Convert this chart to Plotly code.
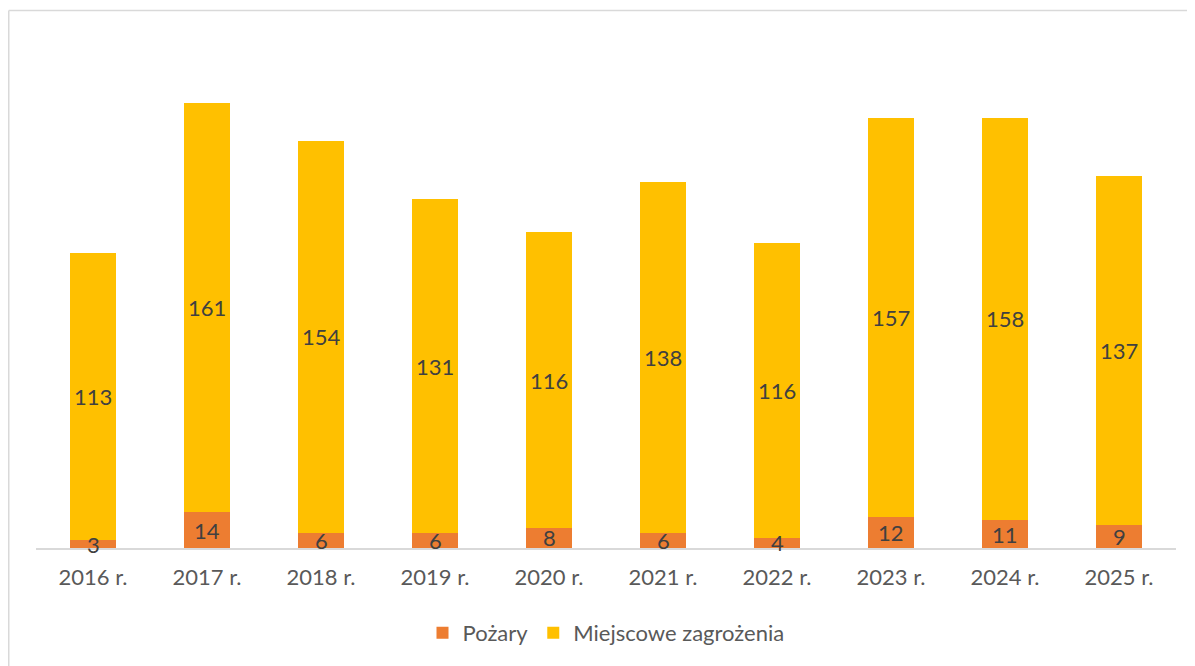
import plotly.graph_objects as go

years = ["2016 r.", "2017 r.", "2018 r.", "2019 r.", "2020 r.", "2021 r.", "2022 r.", "2023 r.", "2024 r.", "2025 r."]
pozary = [3, 14, 6, 6, 8, 6, 4, 12, 11, 9]
miejscowe = [113, 161, 154, 131, 116, 138, 116, 157, 158, 137]

ORANGE = "#ED7D31"
YELLOW = "#FFC000"
FONT = "Lato, Open Sans, sans-serif"
TXT = "#595959"
LBL = "#404040"
SIZE = 22

fig = go.Figure()
fig.add_trace(go.Bar(x=years, y=pozary, name="Pożary", marker=dict(color=ORANGE, line=dict(width=0))))
fig.add_trace(go.Bar(x=years, y=miejscowe, name="Miejscowe zagrożenia", marker=dict(color=YELLOW, line=dict(width=0))))

# data labels centred in each segment
annotations = []
for yr, p, m in zip(years, pozary, miejscowe):
    annotations.append(dict(x=yr, y=p / 2, text=str(p), showarrow=False, yshift=0,
                            font=dict(family=FONT, size=SIZE, color=LBL)))
    annotations.append(dict(x=yr, y=p + m / 2, text=str(m), showarrow=False, yshift=0,
                            font=dict(family=FONT, size=SIZE, color=LBL)))

# page body has an 8px margin, so the figure is sized to fit the window
W, H = 1187, 658
L, R, T, B = 28, 19, 31, 118
pw = W - L - R
ph = H - T - B

def px(x):
    return (x - L) / pw

def py(y):
    return (H - B - y) / ph

fig.update_layout(
    width=W, height=H,
    barmode="stack", bargap=0.6,
    plot_bgcolor="white", paper_bgcolor="white",
    margin=dict(l=L, r=R, t=T, b=B),
    font=dict(family=FONT, size=SIZE, color=TXT),
    xaxis=dict(showline=True, linecolor="#D9D9D9", linewidth=1.5, ticks="", showgrid=False,
               ticklabelstandoff=9, tickfont=dict(family=FONT, size=SIZE, color=TXT)),
    yaxis=dict(range=[0, 200], visible=False, showgrid=False),
    legend=dict(orientation="h", x=0.5, xanchor="center", y=py(625), yanchor="middle",
                font=dict(family=FONT, size=SIZE, color=TXT), traceorder="normal",
                itemwidth=30),
    annotations=annotations,
    shapes=[
        dict(type="line", xref="paper", yref="paper", x0=px(0.75), x1=1.2, y0=py(2.5), y1=py(2.5),
             line=dict(color="#D9D9D9", width=1.5), layer="below"),
        dict(type="line", xref="paper", yref="paper", x0=px(0.75), x1=px(0.75), y0=py(2.5), y1=-0.4,
             line=dict(color="#D9D9D9", width=1.5), layer="below"),
    ],
)

fig.write_html("out.html")
